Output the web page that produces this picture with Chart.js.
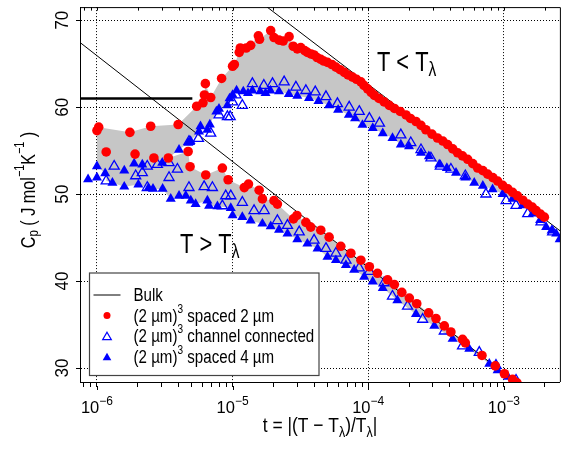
<!DOCTYPE html>
<html>
<head>
<meta charset="utf-8">
<script src="https://cdn.jsdelivr.net/npm/chart.js@4/dist/chart.umd.min.js"></script>
<style>
  html, body { margin: 0; padding: 0; background: #fff; }
  canvas { display: block; }
</style>
</head>
<body>
<canvas id="cp-chart" width="567" height="451"></canvas>
<script>
// axis ranges and tick labels
const xMin = 7.5e-7;
const xMax = 2.59e-3;
const yMin = 28.4;
const yMax = 71.5;
const xDecades = [1e-6, 1e-5, 1e-4, 1e-3];
const xDecadeLabels = ["\u22126", "\u22125", "\u22124", "\u22123"];
const yTickVals = [30, 40, 50, 60, 70];

// T < T_lambda branch (upper curves)
const belowRedT = [1.0e-6, 1.03e-6, 1.75e-6, 2.49e-6, 3.97e-6, 5.44e-6, 6.05e-6, 6.2e-6, 6.3e-6, 6.9e-6,
  8.3e-6, 1.0e-5, 1.03e-5, 1.12e-5, 1.14e-5, 1.26e-5, 1.36e-5, 1.55e-5, 1.58e-5, 1.91e-5,
  2.02e-5, 2.2e-5, 2.36e-5, 2.61e-5, 2.8e-5, 3.0e-5, 3.18e-5, 3.4e-5, 3.56e-5, 3.8e-5,
  3.99e-5, 4.2e-5, 4.47e-5, 4.7e-5, 5.01e-5, 5.4e-5, 5.78e-5, 6.2e-5, 6.66e-5, 7.1e-5,
  7.66e-5, 8.2e-5, 8.83e-5, 9.3e-5, 9.89e-5, 1.05e-4, 1.11e-4, 1.2e-4, 1.31e-4, 1.43e-4,
  1.56e-4, 1.72e-4, 1.9e-4, 2.05e-4, 2.25e-4, 2.45e-4, 2.66e-4, 2.95e-4, 3.24e-4, 3.55e-4,
  3.85e-4, 4.2e-4, 4.56e-4, 4.95e-4, 5.41e-4, 5.9e-4, 6.41e-4, 7.0e-4, 7.59e-4, 8.3e-4,
  9.0e-4, 9.8e-4, 1.07e-3, 1.16e-3, 1.26e-3, 1.38e-3, 1.5e-3, 1.62e-3, 1.73e-3, 1.86e-3, 1.99e-3];
const belowRedCp = [57.3, 57.7, 57.1, 57.8, 58.0, 60.1, 60.5, 61.4, 62.7, 61.1,
  63.3, 64.7, 64.9, 66.3, 66.8, 66.8, 67.1, 68.2, 67.8, 68.8,
  68.0, 67.7, 67.6, 68.1, 67.0, 66.7, 66.85, 66.5, 66.3, 66.1,
  66.0, 65.7, 65.5, 65.3, 65.15, 64.9, 64.6, 64.3, 64.0, 63.7,
  63.45, 63.2, 62.9, 62.5, 62.1, 61.7, 61.35, 61.0, 60.6, 60.2,
  59.85, 59.5, 59.1, 58.7, 58.35, 57.9, 57.4, 56.9, 56.45, 56.1,
  55.7, 55.2, 54.75, 54.4, 54.0, 53.5, 53.0, 52.7, 52.3, 51.9,
  51.5, 51.0, 50.6, 50.2, 49.8, 49.3, 48.85, 48.5, 48.1, 47.7, 47.35];

const belowOpenT = [1.34e-6, 1.93e-6, 2.16e-6, 2.35e-6, 2.79e-6, 3.4e-6, 3.92e-6, 4.77e-6, 5.6e-6, 6.9e-6,
  7.94e-6, 9.16e-6, 9.6e-6, 1.0e-5, 1.06e-5, 1.18e-5, 1.4e-5, 1.7e-5, 1.97e-5, 2.4e-5,
  2.93e-5, 3.47e-5, 4.07e-5, 4.88e-5, 5.93e-5, 7.24e-5, 8.59e-5, 1.02e-4, 1.21e-4, 1.74e-4,
  2.06e-4, 2.45e-4, 2.9e-4, 3.4e-4, 4.07e-4, 5.2e-4, 7.38e-4, 1.04e-3, 1.23e-3, 1.5e-3, 1.88e-3, 2.29e-3];
const belowOpenCp = [53.2, 52.1, 52.45, 53.2, 53.4, 53.6, 52.85, 56.05, 56.4, 57.0,
  59.1, 58.9, 58.9, 60.6, 61.4, 60.2, 62.7, 62.5, 62.7, 62.9,
  62.3, 61.9, 61.75, 61.2, 60.4, 60.0, 59.5, 58.7, 58.15, 56.8,
  55.9, 55.1, 54.15, 53.2, 52.85, 52.1, 50.0, 49.25, 48.7, 47.75, 46.8, 45.65];

const belowFilledT = [8.6e-7, 1.0e-6, 1.15e-6, 1.59e-6, 1.88e-6, 2.16e-6, 3.03e-6, 4.03e-6, 4.72e-6, 4.9e-6,
  5.66e-6, 5.8e-6, 6.52e-6, 6.8e-6, 7.59e-6, 7.94e-6, 9.16e-6, 9.5e-6, 1.0e-5, 1.07e-5,
  1.2e-5, 1.3e-5, 1.4e-5, 1.6e-5, 1.75e-5, 1.9e-5, 2.2e-5, 2.6e-5, 3.0e-5, 3.66e-5,
  4.3e-5, 5.15e-5, 6.0e-5, 7.2e-5, 8.0e-5, 9.07e-5, 1.08e-4, 1.28e-4, 1.51e-4, 1.74e-4,
  2.0e-4, 2.45e-4, 2.8e-4, 3.34e-4, 3.8e-4, 4.44e-4, 5.2e-4, 6.05e-4, 7.0e-4, 8.26e-4,
  9.8e-4, 1.16e-3, 1.38e-3, 1.63e-3, 1.85e-3, 2.05e-3, 2.25e-3, 2.43e-3, 2.58e-3];
const belowFilledCp = [51.7, 53.2, 52.4, 52.7, 53.5, 53.4, 53.6, 55.1, 55.9, 56.1,
  57.2, 57.8, 57.4, 58.0, 59.5, 59.8, 60.2, 61.0, 61.4, 61.9,
  61.8, 61.6, 61.9, 61.8, 61.6, 61.9, 61.8, 61.5, 61.3, 61.05,
  60.7, 60.2, 59.7, 59.1, 58.7, 57.95, 57.6, 57.0, 56.45, 55.7,
  55.5, 54.75, 54.35, 53.4, 53.0, 52.45, 51.9, 51.3, 50.95, 50.55,
  50.0, 49.45, 48.7, 47.75, 47.0, 46.2, 45.8, 45.45, 44.8];

// T > T_lambda branch (lower curves)
const aboveRedT = [1.17e-6, 1.91e-6, 2.63e-6, 3.36e-6, 4.7e-6, 4.86e-6, 6.34e-6, 8.41e-6, 9.27e-6, 1.22e-5,
  1.31e-5, 1.57e-5, 1.66e-5, 2.02e-5, 2.14e-5, 2.81e-5, 2.98e-5, 3.47e-5, 3.77e-5, 4.47e-5,
  5.15e-5, 6.28e-5, 7.45e-5, 8.83e-5, 1.02e-4, 1.17e-4, 1.39e-4, 1.56e-4, 1.77e-4, 2.01e-4,
  2.28e-4, 2.79e-4, 3.16e-4, 3.64e-4, 4.07e-4, 4.96e-4, 5.2e-4, 6.9e-4, 8.65e-4, 1.01e-3, 1.16e-3, 1.25e-3];
const aboveRedCp = [54.85, 54.6, 54.15, 54.15, 54.9, 53.15, 52.2, 53.0, 51.65, 50.75,
  51.15, 50.45, 49.45, 49.25, 48.85, 47.15, 47.55, 46.75, 46.2, 45.85,
  45.05, 44.0, 43.2, 42.4, 41.65, 40.9, 40.15, 39.6, 38.7, 38.05,
  37.4, 36.35, 35.7, 34.85, 34.15, 33.3, 32.9, 31.45, 30.25, 29.35, 28.7, 28.3];

const aboveOpenT = [1.17e-6, 2.35e-6, 3.4e-6, 4.77e-6, 6.17e-6, 7.1e-6, 8.41e-6, 8.9e-6, 9.7e-6, 1.18e-5,
  1.44e-5, 1.71e-5, 2.14e-5, 2.54e-5, 3.1e-5, 3.99e-5, 4.88e-5, 5.78e-5, 6.85e-5, 8.59e-5,
  1.02e-4, 1.31e-4, 1.51e-4, 1.95e-4, 2.52e-4, 3.64e-4, 4.96e-4, 6.59e-4, 8.75e-4, 1.23e-3];
const aboveOpenCp = [51.5, 50.75, 51.9, 50.75, 50.85, 50.75, 48.65, 49.8, 49.8, 49.05,
  48.1, 48.1, 46.95, 46.4, 45.65, 44.7, 43.75, 43.2, 42.4, 41.5,
  41.1, 39.8, 38.25, 37.1, 35.6, 34.25, 32.55, 31.8, 30.3, 28.6];

const aboveFilledT = [1.0e-6, 1.3e-6, 1.59e-6, 2.02e-6, 2.4e-6, 2.59e-6, 3.05e-6, 3.5e-6, 4.03e-6, 4.52e-6,
  4.92e-6, 5.34e-6, 6.52e-6, 6.71e-6, 7.73e-6, 9.7e-6, 1.0e-5, 1.18e-5, 1.36e-5, 1.66e-5,
  1.91e-5, 2.2e-5, 2.54e-5, 3.0e-5, 3.56e-5, 4.23e-5, 5.01e-5, 5.78e-5, 6.85e-5, 7.88e-5,
  9.34e-5, 1.08e-4, 1.28e-4, 1.64e-4, 2.25e-4, 3.07e-4, 4.19e-4, 5.56e-4, 7.81e-4, 9.0e-4, 1.07e-3];
const aboveFilledCp = [51.9, 51.3, 50.85, 51.1, 50.7, 50.6, 50.6, 49.45, 49.8, 49.8,
  49.25, 48.85, 49.25, 48.65, 48.6, 48.4, 47.55, 47.35, 46.95, 46.6,
  46.3, 45.9, 45.45, 44.8, 44.3, 43.75, 42.8, 42.4, 41.85, 41.3,
  40.5, 39.95, 39.2, 37.8, 36.2, 34.85, 33.35, 32.2, 30.5, 29.75, 29.0];

// bulk helium lines
const bulkBelowT = [1e-5, 3e-3];
const bulkBelowCp = [74.54, 45.03];
const bulkAboveT = [7e-7, 2e-3];
const bulkAboveCp = [67.8, 25.74];
const bulkFlatT = [7e-7, 5.05e-6];
const bulkFlatCp = [61, 61];

// annotation anchors (data coords)
const belowLabelAt = { t: 1.16e-4, cp: 64.2 };
const aboveLabelAt = { t: 4.1e-6, cp: 43.18 };

const FONT = '"Liberation Sans", Arial, Helvetica, sans-serif';
const RED = "#ff0000";
const BLUE = "#0000ff";
const GREY = "#c6c6c6";

const pts = (ts, cs) => ts.map((t, i) => ({ x: t, y: cs[i] }));
const isDecade = (v) => Math.abs(Math.log10(v) - Math.round(Math.log10(v))) < 1e-6;

// all x tick positions: 1..9 times each decade, inside the range
const xTickVals = [];
[1e-7].concat(xDecades).forEach((d) => {
    for (let k = 1; k <= 9; k++) {
        const v = d * k;
        if (v >= xMin && v <= xMax) xTickVals.push(v);
    }
});

// draw a run of text pieces: [text, size, dy, squeeze]
function drawRuns(ctx, runs, x, y, align) {
    let total = 0;
    const widths = runs.map(([s, size, dy, sq]) => {
        ctx.font = size + "px " + FONT;
        const w = ctx.measureText(s).width * sq;
        total += w;
        return w;
    });
    let cx = align === "center" ? x - total / 2 : x;
    runs.forEach(([s, size, dy, sq], i) => {
        ctx.save();
        ctx.font = size + "px " + FONT;
        ctx.textAlign = "left";
        ctx.textBaseline = "alphabetic";
        ctx.translate(cx, y + dy);
        ctx.scale(sq, 1);
        ctx.fillText(s, 0, 0);
        ctx.restore();
        cx += widths[i];
    });
}

function triangle(ctx, x, y, r, filled) {
    ctx.beginPath();
    for (let k = 0; k < 3; k++) {
        const a = k * 2 * Math.PI / 3;
        const px = x + Math.sin(a) * r;
        const py = y - Math.cos(a) * r;
        if (k === 0) ctx.moveTo(px, py); else ctx.lineTo(px, py);
    }
    ctx.closePath();
    if (filled) { ctx.fillStyle = BLUE; ctx.fill(); }
    else { ctx.strokeStyle = BLUE; ctx.lineWidth = 1.2; ctx.stroke(); }
}

// frame, inward top ticks, tick labels, titles, annotations, legend
const decorations = {
    id: "decorations",
    afterDraw(chart) {
        const { ctx, chartArea: a, scales: { x, y } } = chart;
        ctx.save();
        ctx.strokeStyle = "#000";
        ctx.lineWidth = 1;
        ctx.beginPath();
        ctx.moveTo(a.left, a.top + 0.5);
        ctx.lineTo(a.right + 0.5, a.top + 0.5);
        ctx.lineTo(a.right + 0.5, a.bottom);
        ctx.stroke();
        // top ticks (inward) and longer decade ticks at bottom
        x.ticks.forEach((t) => {
            const px = Math.round(x.getPixelForValue(t.value)) + 0.5;
            ctx.beginPath();
            ctx.moveTo(px, a.top);
            ctx.lineTo(px, a.top + 3.5);
            if (isDecade(t.value)) {
                ctx.moveTo(px, a.bottom + 4);
                ctx.lineTo(px, a.bottom + 8);
            }
            ctx.stroke();
        });
        ctx.fillStyle = "#000";
        // x tick labels 10^n
        xDecades.forEach((d, i) => {
            const px = x.getPixelForValue(d);
            drawRuns(ctx, [["10", 16.5, 0, 1], [xDecadeLabels[i], 12, -8.5, 1]], px, a.bottom + 31, "center");
        });
        // y tick labels, rotated
        yTickVals.forEach((v) => {
            ctx.save();
            ctx.translate(a.left - 12, y.getPixelForValue(v));
            ctx.rotate(-Math.PI / 2);
            drawRuns(ctx, [[String(v), 18, 0, 0.95]], 0, 0, "center");
            ctx.restore();
        });
        // axis titles
        drawRuns(ctx, [
            ["t = |(T \u2212 T", 21, 0, 0.83],
            ["\u03bb", 15, 5, 0.83],
            [")/T", 21, 0, 0.83],
            ["\u03bb", 15, 5, 0.83],
            ["|", 21, 0, 0.83]
        ], (a.left + a.right) / 2, a.bottom + 50, "center");
        ctx.save();
        ctx.translate(35, (a.top + a.bottom) / 2 - 4.5);
        ctx.rotate(-Math.PI / 2);
        drawRuns(ctx, [
            ["C", 21, 0, 0.77],
            ["p", 15, 3, 0.77],
            [" ( J mol", 21, 0, 0.77],
            ["\u22121", 14, -11, 0.77],
            ["K", 21, 0, 0.77],
            ["\u22121", 14, -11, 0.77],
            [" )", 21, 0, 0.77]
        ], 0, 0, "center");
        ctx.restore();
        // branch annotations
        drawRuns(ctx, [["T < T", 28, 0, 0.78], ["\u03bb", 20, 5, 0.78]],
            x.getPixelForValue(belowLabelAt.t), y.getPixelForValue(belowLabelAt.cp), "left");
        drawRuns(ctx, [["T > T", 28, 0, 0.78], ["\u03bb", 20, 5, 0.78]],
            x.getPixelForValue(aboveLabelAt.t), y.getPixelForValue(aboveLabelAt.cp), "left");
        // legend box
        const lx = a.left + 9.5, ly = a.bottom - 109, lw = 229.5, lh = 102.5;
        ctx.fillStyle = "#fff";
        ctx.fillRect(lx, ly, lw, lh);
        ctx.strokeStyle = "#444";
        ctx.lineWidth = 1.2;
        ctx.strokeRect(lx, ly, lw, lh);
        const rowY = [ly + 22, ly + 42.6, ly + 63.2, ly + 83.8];
        const mx = lx + 17.5;
        ctx.strokeStyle = "#000";
        ctx.lineWidth = 1;
        ctx.beginPath();
        ctx.moveTo(lx + 4, rowY[0]);
        ctx.lineTo(lx + 31, rowY[0]);
        ctx.stroke();
        ctx.fillStyle = RED;
        ctx.beginPath();
        ctx.arc(mx, rowY[1], 3.5, 0, 2 * Math.PI);
        ctx.fill();
        triangle(ctx, mx, rowY[2] + 1, 5, false);
        triangle(ctx, mx, rowY[3] + 1, 5, true);
        ctx.fillStyle = "#000";
        const tx = lx + 44;
        drawRuns(ctx, [["Bulk", 18, 0, 0.84]], tx, rowY[0] + 6, "left");
        const entries = [" spaced 2 \u00b5m", " channel connected", " spaced 4 \u00b5m"];
        entries.forEach((e, i) => {
            drawRuns(ctx, [["(2 \u00b5m)", 18, 0, 0.84], ["3", 12, -9, 0.84], [e, 18, 0, 0.84]],
                tx, rowY[i + 1] + 6, "left");
        });
        ctx.restore();
    }
};

const marker = (data, style, filled, color, r) => ({
    data,
    showLine: false,
    pointStyle: style,
    pointRadius: r,
    pointBackgroundColor: filled ? color : "rgba(0,0,0,0)",
    pointBorderColor: color,
    pointBorderWidth: filled ? 0 : 1.3,
});
const bulk = (data, width) => ({
    data,
    showLine: true,
    pointRadius: 0,
    borderColor: "#000",
    borderWidth: width,
    tension: 0,
    fill: false,
});
const envelope = (data, target) => ({
    data,
    showLine: true,
    pointRadius: 0,
    borderWidth: 0,
    borderColor: "rgba(0,0,0,0)",
    backgroundColor: GREY,
    tension: 0,
    fill: target === null ? false : { target: target },
});

new Chart(document.getElementById("cp-chart"), {
    type: "scatter",
    data: {
        datasets: [
            marker(pts(belowRedT, belowRedCp), "circle", true, RED, 4.8),
            marker(pts(aboveRedT, aboveRedCp), "circle", true, RED, 4.8),
            marker(pts(belowOpenT, belowOpenCp), "triangle", false, BLUE, 5.8),
            marker(pts(aboveOpenT, aboveOpenCp), "triangle", false, BLUE, 5.8),
            marker(pts(belowFilledT, belowFilledCp), "triangle", true, BLUE, 5.8),
            marker(pts(aboveFilledT, aboveFilledCp), "triangle", true, BLUE, 5.8),
            bulk(pts(bulkBelowT, bulkBelowCp), 1),
            bulk(pts(bulkAboveT, bulkAboveCp), 1),
            bulk(pts(bulkFlatT, bulkFlatCp), 2.6),
            envelope(pts(belowRedT, belowRedCp), 10),
            envelope(pts(belowFilledT, belowFilledCp), null),
            envelope(pts(aboveRedT, aboveRedCp), 12),
            envelope(pts(aboveFilledT, aboveFilledCp), null),
        ],
    },
    options: {
        responsive: false,
        devicePixelRatio: 1,
        animation: false,
        events: [],
        layout: { padding: { top: 4, right: 7, left: 0, bottom: 0 } },
        plugins: { legend: { display: false }, tooltip: { enabled: false } },
        scales: {
            x: {
                type: "logarithmic",
                position: "bottom",
                min: xMin,
                max: xMax,
                afterBuildTicks: (s) => { s.ticks = xTickVals.map((v) => ({ value: v })); },
                afterFit: (s) => { s.height = 69; },
                ticks: { display: false },
                grid: {
                    color: (c) => (c.tick && isDecade(c.tick.value) ? "#000" : "rgba(0,0,0,0)"),
                    lineWidth: 1,
                    tickColor: "#000",
                    tickLength: 5,
                },
                border: { display: true, color: "#000", width: 1, dash: [1, 2] },
            },
            y: {
                type: "linear",
                position: "left",
                min: yMin,
                max: yMax,
                afterBuildTicks: (s) => { s.ticks = yTickVals.map((v) => ({ value: v })); },
                afterFit: (s) => { s.width = 80; },
                ticks: { display: false },
                grid: { color: "#000", lineWidth: 1, tickColor: "#000", tickLength: 4 },
                border: { display: true, color: "#000", width: 1, dash: [1, 2] },
            },
        },
    },
    plugins: [decorations],
});
</script>
</body>
</html>
